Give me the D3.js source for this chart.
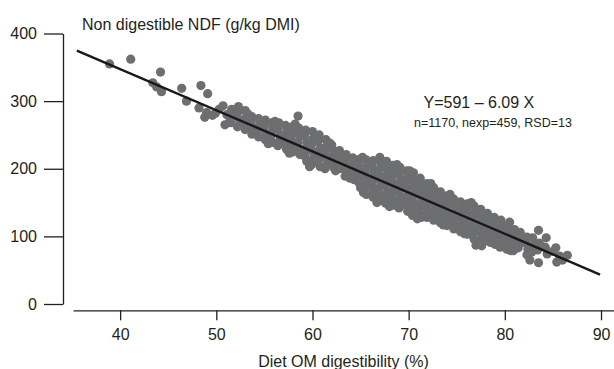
<!DOCTYPE html>
<html>
<head>
<meta charset="utf-8">
<script src="https://cdn.jsdelivr.net/npm/d3@7"></script>
<style>
  html, body { margin: 0; padding: 0; background: #fff; }
  svg { display: block; }
  text { font-family: "Liberation Sans", Arial, Helvetica, sans-serif; fill: #231f20; }
</style>
</head>
<body>
<svg id="chart" width="614" height="369"></svg>
<script>
// ---- Data ----
const xTicks = [40, 50, 60, 70, 80, 90];
const yTicks = [0, 100, 200, 300, 400];
const xTitle = "Diet OM digestibility (%)";
const yTitle = "Non digestible NDF (g/kg DMI)";
const equationLabel = "Y=591 \u2013 6.09 X";
const statsLabel = "n=1170, nexp=459, RSD=13";
const fitIntercept = 591;
const fitSlope = -6.09;
const fitRange = [35.5, 89.9];

// isolated observations at the low-digestibility end
const sparsePoints = [
  [38.9,355],[41.1,362],[44.2,343],[43.4,327],[43.8,321],[44.3,314],[46.4,319],[46.9,300],
  [48.4,323],[49.1,311],[48.2,290],[48.8,276],[49.0,283],[49.6,279],[49.9,282],[50.7,293],
  [51.1,280],[50.9,265],[51.4,270],[50.3,288],[58.5,278]
];

// dense cloud of observations
const densePoints = [
  [51.6,288],[51.7,278],[51.5,268],
  [52.3,292],[52.2,282],[52.4,272],[52.2,262],
  [53.0,286],[53.1,276],[52.9,267],[53.0,258],
  [53.7,277],[53.6,268],[53.8,259],[53.7,251],
  [54.4,274],[54.5,265],[54.3,256],[54.4,247],
  [55.1,272],[55.0,262],[55.2,252],[55.1,243],
  [55.8,268],[55.9,259],[55.7,249],[55.8,239],
  [56.5,268],[56.4,258],[56.6,249],[56.5,240],[56.4,234],
  [57.2,264],[57.3,254],[57.1,245],[57.2,236],[57.3,229],
  [57.9,262],[58.0,252],[57.8,243],[57.9,234],[58.0,225],
  [58.6,260],[58.7,250],[58.5,240],[58.6,230],[58.7,221],
  [59.3,257],[59.2,248],[59.4,238],[59.3,228],[59.2,219],[59.4,211],
  [60.0,255],[60.1,245],[59.9,236],[60.0,226],[60.1,216],[59.9,206],
  [60.7,250],[60.6,241],[60.8,231],[60.7,222],[60.6,212],[60.8,203],
  [61.4,243],[61.5,233],[61.3,224],[61.4,215],[61.5,206],[61.3,200],
  [62.0,235],[62.2,227],[62.1,218],[62.0,210],[62.2,202],
  [62.8,227],[62.7,218],[62.9,209],[62.8,200],
  [63.5,221],[63.4,212],[63.6,204],[63.5,195],[63.4,189],
  [64.2,216],[64.3,208],[64.1,200],[64.2,192],[64.3,184],
  [64.9,214],[64.8,205],[65.0,196],[64.9,188],[64.8,180],[65.0,172],
  [65.6,213],[65.7,204],[65.5,195],[65.6,186],[65.7,178],[65.5,170],[65.6,162],
  [66.3,212],[66.2,203],[66.4,194],[66.3,185],[66.2,176],[66.4,167],[66.3,158],
  [67.0,217],[67.1,207],[66.9,198],[67.0,189],[67.1,180],[66.9,171],[67.0,162],[67.1,153],
  [67.7,211],[67.6,202],[67.8,193],[67.7,184],[67.6,175],[67.8,166],[67.7,157],[67.6,149],
  [68.4,205],[68.5,197],[68.3,188],[68.4,179],[68.5,170],[68.3,161],[68.4,153],[68.5,146],
  [69.1,202],[69.0,193],[69.2,184],[69.1,175],[69.0,166],[69.2,158],[69.1,150],[69.0,142],
  [69.8,197],[69.9,189],[69.7,180],[69.8,171],[69.9,162],[69.7,153],[69.8,145],[69.9,137],
  [70.5,194],[70.4,185],[70.6,176],[70.5,167],[70.4,158],[70.6,149],[70.5,140],[70.4,131],
  [71.2,186],[71.3,178],[71.1,169],[71.2,160],[71.3,151],[71.1,142],[71.2,134],[71.3,128],
  [71.9,178],[71.8,170],[72.0,161],[71.9,153],[71.8,145],[72.0,136],[71.9,128],
  [72.6,172],[72.7,164],[72.5,156],[72.6,148],[72.7,140],[72.5,132],[72.6,124],
  [73.3,166],[73.2,158],[73.4,150],[73.3,142],[73.2,134],[73.4,127],[73.3,120],
  [74.0,160],[74.1,152],[73.9,144],[74.0,136],[74.1,128],[73.9,121],[74.0,116],
  [74.7,155],[74.6,147],[74.8,139],[74.7,131],[74.6,123],[74.8,116],[74.7,111],
  [75.4,151],[75.5,143],[75.3,135],[75.4,127],[75.5,119],[75.3,112],[75.4,107],
  [76.1,148],[76.0,140],[76.2,132],[76.1,124],[76.0,116],[76.2,109],[76.1,103],
  [76.8,145],[76.9,137],[76.7,129],[76.8,121],[76.9,113],[76.7,105],[76.8,96],[77.0,87],
  [77.5,140],[77.4,132],[77.6,124],[77.5,116],[77.4,108],[77.6,100],[77.5,92],[77.6,86],
  [78.2,134],[78.3,126],[78.1,118],[78.2,110],[78.3,102],[78.1,94],
  [78.9,128],[78.8,120],[79.0,112],[78.9,104],[78.8,96],[79.0,88],
  [79.6,124],[79.7,116],[79.5,108],[79.6,100],[79.7,92],[79.5,84],
  [80.5,121],[80.3,112],[80.2,104],[80.4,96],[80.3,88],[80.2,81],
  [81.0,110],[80.9,102],[81.1,94],[81.0,86],[80.9,79],
  [81.6,106],[81.7,97],[81.5,89],[81.4,83],
  [82.3,99],[82.2,90],[82.4,81],[82.3,73],
  [82.9,98],[83.0,87],[82.8,77],[82.6,65],
  [83.5,109],[83.6,90],[83.4,80],[83.5,61],
  [84.3,98],[84.2,84],[84.4,74],
  [85.0,78],[85.3,83],[85.4,62],[85.7,71],[86.0,65],[86.5,72]
];

// extra observations along the cloud edges
const edgePoints = [
  [53.3,281],[56.1,270],[58.2,266],[61.8,238],[65.2,217],[68.8,206],[70.1,197],[72.3,178],
  [74.3,162],[76.5,150],[55.4,237],[57.6,223],[59.7,203],[62.4,197],[63.9,186],[65.3,165],
  [66.7,150],[68.0,144],[70.9,126],[73.6,117],[75.8,104],[78.5,91],[80.6,79]
];

// ---- Drawing ----
const svg = d3.select("#chart");
const ink = "#231f20";
const dotColor = "#6d6e70";

const x = d3.scaleLinear().domain([35.1, 91.35]).range([73, 614]);
const y = d3.scaleLinear().domain([0, 400]).range([304, 33.5]);

// Y axis
const yAxis = svg.append("g")
  .attr("transform", "translate(63,0)")
  .call(d3.axisLeft(y).tickValues(yTicks).tickSize(19).tickSizeOuter(0).tickPadding(7).tickFormat(d3.format("d")));
yAxis.select(".domain").attr("stroke", ink).attr("stroke-width", 1.3);
yAxis.selectAll(".tick line").attr("stroke", ink).attr("stroke-width", 1.3);
yAxis.selectAll(".tick text").attr("font-size", 16).attr("fill", ink)
  .style("font-family", '"Liberation Sans", Arial, Helvetica, sans-serif');

// X axis
const xAxis = svg.append("g")
  .attr("transform", "translate(0,310.3)")
  .call(d3.axisBottom(x).tickValues(xTicks).tickSize(10).tickSizeOuter(0).tickPadding(8).tickFormat(d3.format("d")));
xAxis.select(".domain").attr("stroke", ink).attr("stroke-width", 1.3);
xAxis.selectAll(".tick line").attr("stroke", ink).attr("stroke-width", 1.3);
xAxis.selectAll(".tick text").attr("font-size", 16).attr("fill", ink)
  .style("font-family", '"Liberation Sans", Arial, Helvetica, sans-serif');

// points
const allPoints = sparsePoints.concat(densePoints, edgePoints);
svg.append("g").selectAll("circle")
  .data(allPoints)
  .join("circle")
  .attr("cx", d => x(d[0]))
  .attr("cy", d => y(d[1]))
  .attr("r", 4.6)
  .attr("fill", dotColor);

// regression line
const line = d3.line().x(d => x(d)).y(d => y(fitIntercept + fitSlope * d));
svg.append("path")
  .attr("d", line(fitRange))
  .attr("fill", "none")
  .attr("stroke", "#1a1718")
  .attr("stroke-width", 2.4);

// titles
svg.append("text").attr("x", 82).attr("y", 29.5).attr("font-size", 16).text(yTitle);
svg.append("text").attr("x", 343.5).attr("y", 366.5).attr("font-size", 16)
  .attr("text-anchor", "middle").text(xTitle);

// annotations
svg.append("text").attr("x", 423.5).attr("y", 108.3).attr("font-size", 16).text(equationLabel);
svg.append("text").attr("x", 414).attr("y", 127.3).attr("font-size", 12.5).text(statsLabel);
</script>
</body>
</html>
